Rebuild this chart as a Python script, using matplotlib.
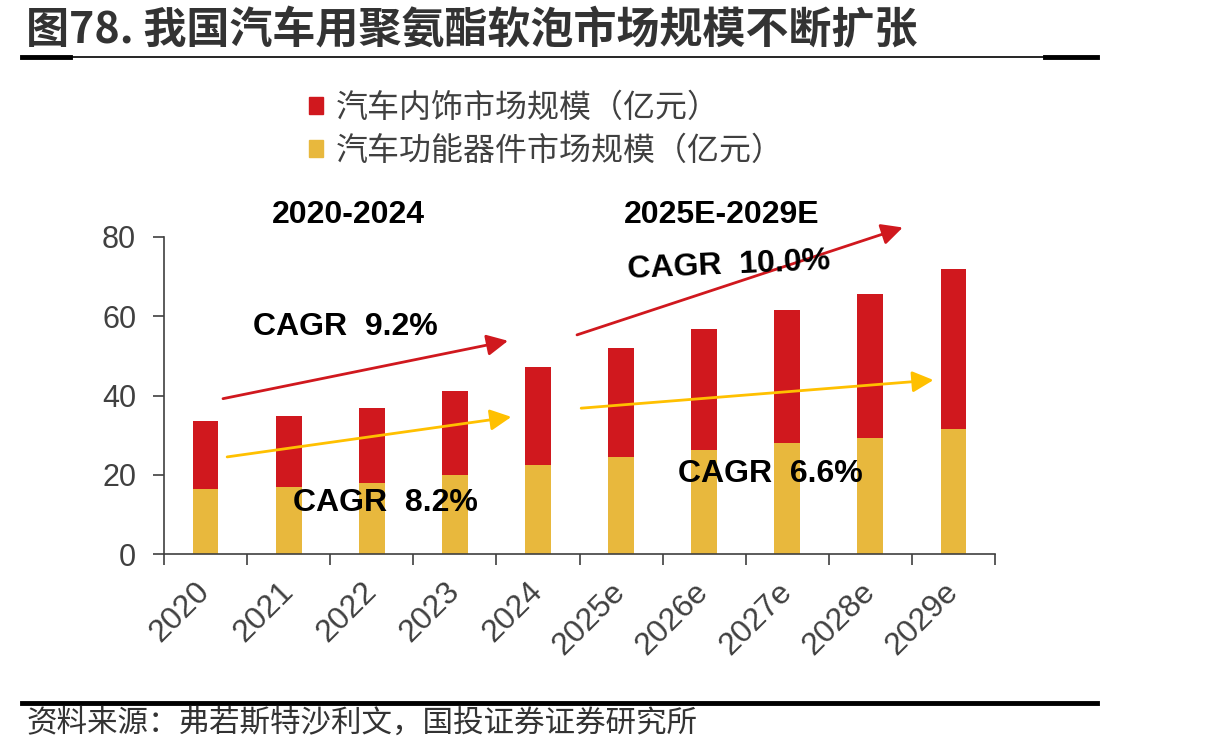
import matplotlib
matplotlib.use("Agg")
import matplotlib.pyplot as plt
from matplotlib.lines import Line2D
import numpy as np

plt.rcParams['font.family'] = ['Liberation Sans', 'Noto Sans CJK SC', 'DejaVu Sans']

years = ['2020', '2021', '2022', '2023', '2024', '2025e', '2026e', '2027e', '2028e', '2029e']
functional = [16.4, 16.8, 17.8, 19.9, 22.5, 24.5, 26.3, 28.1, 29.3, 31.6]
interior = [17.2, 18.0, 19.1, 21.3, 24.6, 27.4, 30.5, 33.4, 36.3, 40.3]
series_names = ['汽车内饰市场规模（亿元）', '汽车功能器件市场规模（亿元）']

RED = '#D0181E'
YELLOW = '#E8B83D'
GRAY = '#404040'
CJK = ['Noto Sans CJK SC', 'DejaVu Sans']

fig = plt.figure(figsize=(12.13, 7.53), dpi=100)
ax = fig.add_axes([164 / 1213, 1 - 554 / 753, (995 - 164) / 1213, (554 - 237) / 753])

x = np.arange(len(years))
ax.bar(x, functional, width=0.31, color=YELLOW, zorder=2)
ax.bar(x, interior, width=0.31, bottom=functional, color=RED, zorder=2)

ax.set_xlim(-0.5, len(years) - 0.5)
ax.set_ylim(0, 80)
ax.set_yticks([0, 20, 40, 60, 80])
ax.set_xticks(x)
ax.set_xticks(np.arange(-0.5, len(years)), minor=True)
ax.set_xticklabels(years, rotation=45, ha='right', va='center', rotation_mode='anchor')
ax.tick_params(axis='x', which='major', length=0, pad=24, labelsize=23, labelcolor=GRAY)
ax.tick_params(axis='x', which='minor', length=8, width=1.2, color=GRAY)
ax.tick_params(axis='y', length=8, width=1.2, color=GRAY, labelsize=22, labelcolor=GRAY, pad=12)
for s in ['top', 'right']:
    ax.spines[s].set_visible(False)
for s in ['left', 'bottom']:
    ax.spines[s].set_color(GRAY)
    ax.spines[s].set_linewidth(1.2)

# trend arrows
def arrow(x0, y0, x1, y1, color):
    ax.annotate('', xy=(x1, y1), xytext=(x0, y0), annotation_clip=False,
                arrowprops=dict(arrowstyle='-|>', color=color, lw=2,
                                mutation_scale=32, shrinkA=0, shrinkB=0))

arrow(0.21, 39.2, 3.64, 53.8, RED)
arrow(0.26, 24.5, 3.68, 34.6, '#FFC000')
arrow(4.47, 55.3, 8.39, 82.4, RED)
arrow(4.52, 36.8, 8.76, 43.9, '#FFC000')

def ftext(px, py, s, **kw):
    fig.text(px / 1213, 1 - py / 753, s, **kw)

bold = dict(fontsize=23, fontweight='bold', color='black', ha='center', va='center')
ftext(348, 215, '2020-2024', **bold)
ftext(722, 215, '2025E-2029E', **bold)
ftext(345, 327, 'CAGR  9.2%', **bold)
ftext(385, 503, 'CAGR  8.2%', **bold)
ftext(729, 266, 'CAGR  10.0%', rotation=2.5, **bold)
ftext(770, 474, 'CAGR  6.6%', **bold)

# legend
fig.legend(handles=[plt.Rectangle((0, 0), 1, 1, color=RED), plt.Rectangle((0, 0), 1, 1, color=YELLOW)],
           labels=series_names, loc='upper left', bbox_to_anchor=(280 / 1213, 1 - 63 / 753),
           frameon=False, prop={'family': CJK, 'size': 23}, labelcolor=GRAY,
           handlelength=0.45, handleheight=0.45, handletextpad=0.4, labelspacing=0.35)

# title and source
ftext(26, 30, '图78. 我国汽车用聚氨酯软泡市场规模不断扩张', family=CJK, fontsize=31,
      fontweight='bold', color='#333333', ha='left', va='center')
ftext(26, 723, '资料来源：弗若斯特沙利文，国投证券证券研究所', family=CJK, fontsize=22,
      color='#333333', ha='left', va='center')

for (x0, x1, yy, lw) in [(22, 1097, 57, 1.2), (22, 70, 57, 3.5), (1045, 1097, 57, 3.5), (22, 1097, 703, 3.5)]:
    fig.add_artist(Line2D([x0 / 1213, x1 / 1213], [1 - yy / 753, 1 - yy / 753],
                          color='black', lw=lw, transform=fig.transFigure))

fig.savefig('out.png', dpi=100)
